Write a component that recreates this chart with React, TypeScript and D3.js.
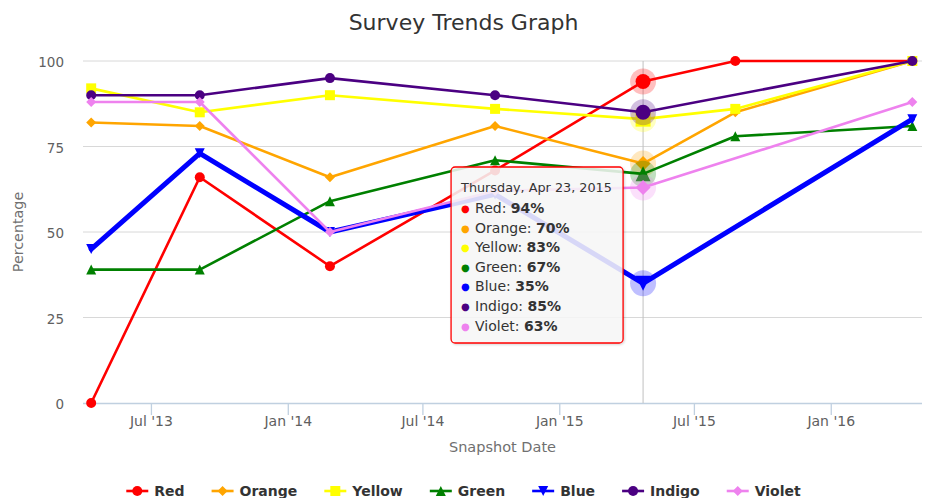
import React, { useMemo } from "react";
import * as d3 from "d3";

const DATES = ["2013-04-11", "2013-09-04", "2014-02-26", "2014-10-06", "2015-04-23", "2015-08-25", "2016-04-19"];
const SERIES_NAMES = ["Red", "Orange", "Yellow", "Green", "Blue", "Indigo", "Violet"];
const SERIES_COLORS = ["#ff0000", "#ffa500", "#ffff00", "#008000", "#0000ff", "#4b0082", "#ee82ee"];
const SERIES_SYMBOLS = ["circle", "diamond", "square", "triangle", "triangle-down", "circle", "diamond"];
const RED = [0, 66, 40, 68, 94, 100, 100];
const ORANGE = [82, 81, 66, 81, 70, 85, 100];
const YELLOW = [92, 85, 90, 86, 83, 86, 100];
const GREEN = [39, 39, 59, 71, 67, 78, 81];
const BLUE = [45, 73, 50, 61, 35, null, 83];
const INDIGO = [90, 90, 95, 90, 85, null, 100];
const VIOLET = [88, 88, 50, 62, 63, null, 88];
const SERIES_VALUES: (number | null)[][] = [RED, ORANGE, YELLOW, GREEN, BLUE, INDIGO, VIOLET];
const Y_TICKS = [0, 25, 50, 75, 100];
const X_DOMAIN = ["2013-03-31", "2016-05-02"];
const HOVER_INDEX = 4;

const W = 927;
const H = 498;
const PL = 83;
const PR = 922;
const PT = 61;
const PB = 403;
const FONT = "'DejaVu Sans', Verdana, sans-serif";

const parse = d3.timeParse("%Y-%m-%d");

function symbolPath(type: string, x: number, y: number, r: number): string {
  switch (type) {
    case "circle":
      return `M${x - r},${y}a${r},${r} 0 1,0 ${2 * r},0a${r},${r} 0 1,0 ${-2 * r},0Z`;
    case "diamond":
      return `M${x},${y - r}L${x + r},${y}L${x},${y + r}L${x - r},${y}Z`;
    case "square":
      return `M${x - r},${y - r}L${x + r},${y - r}L${x + r},${y + r}L${x - r},${y + r}Z`;
    case "triangle":
      return `M${x},${y - r}L${x + r},${y + r}L${x - r},${y + r}Z`;
    case "triangle-down":
      return `M${x - r},${y - r}L${x + r},${y - r}L${x},${y + r}Z`;
    default:
      return "";
  }
}

function measure(text: string, font: string): number {
  try {
    const c = document.createElement("canvas").getContext("2d");
    if (c) {
      c.font = font;
      return c.measureText(text).width;
    }
  } catch (e) {}
  return text.length * 8;
}

export default function App() {
  const dates = DATES.map((d) => parse(d) as Date);
  const x = d3.scaleTime().domain(X_DOMAIN.map((d) => parse(d) as Date)).range([PL, PR]);
  const y = d3.scaleLinear().domain([0, 100]).range([PB, PT]);
  const xTicks = d3.timeMonth.every(6)!.range(parse("2013-06-01") as Date, parse("2016-02-01") as Date);
  const fmt = d3.timeFormat("%b '%y");

  const line = d3
    .line<{ d: Date; v: number }>()
    .x((p) => x(p.d))
    .y((p) => y(p.v));

  const legendFont = `bold 14px ${FONT}`;
  const legendLayout = useMemo(() => {
    const widths = SERIES_NAMES.map((n) => measure(n, "bold 14px 'DejaVu Sans'"));
    const items = widths.map((w) => 22 + 6 + w);
    const total = items.reduce((a, b) => a + b, 0) + 27 * (items.length - 1);
    let cx = W / 2 - total / 2;
    return items.map((iw) => {
      const s = cx;
      cx += iw + 27;
      return s;
    });
  }, []);

  const hx = x(dates[HOVER_INDEX]);
  const tipW = 172;
  const tipH = 176;
  const tipX = hx - 20 - tipW;
  const tipY = 167;
  const tipFmt = d3.timeFormat("%A, %b %-d, %Y");

  return (
    <svg
      width={W}
      height={H}
      style={{ position: "absolute", left: 0, top: 0, fontFamily: FONT, background: "#fff" }}
    >
      <defs>
        <filter id="tipShadow" x="-10%" y="-10%" width="130%" height="130%">
          <feDropShadow dx="1" dy="1" stdDeviation="1.2" floodColor="#000" floodOpacity="0.18" />
        </filter>
      </defs>
      <rect x={0} y={0} width={W} height={H} fill="#fff" />
      <text x={W / 2} y={30} textAnchor="middle" fontSize={22} fill="#333333">
        Survey Trends Graph
      </text>

      {/* grid */}
      {Y_TICKS.map((t) => (
        <g key={t}>
          {t !== 0 && <line x1={PL} x2={PR} y1={y(t)} y2={y(t)} stroke="#D8D8D8" strokeWidth={1} />}
          <text x={64} y={y(t) + 6} textAnchor="end" fontSize={13.5} fill="#606060">
            {t}
          </text>
        </g>
      ))}
      <line x1={PL} x2={PR} y1={PB + 0.5} y2={PB + 0.5} stroke="#C0D0E0" strokeWidth={1.3} />
      {xTicks.map((t, i) => (
        <g key={i}>
          <line x1={x(t)} x2={x(t)} y1={PB} y2={PB + 12} stroke="#C0D0E0" strokeWidth={1.3} />
          <text x={x(t)} y={426} textAnchor="middle" fontSize={14} fill="#606060">
            {fmt(t)}
          </text>
        </g>
      ))}
      <text x={(PL + PR) / 2} y={452} textAnchor="middle" fontSize={14.5} fill="#707070">
        Snapshot Date
      </text>
      <text
        transform={`translate(23,${(PT + PB) / 2}) rotate(-90)`}
        textAnchor="middle"
        fontSize={14.3}
        fill="#707070"
      >
        Percentage
      </text>

      {/* crosshair */}
      <line x1={hx} x2={hx} y1={PT} y2={PB} stroke="#C0C0C0" strokeWidth={1} />

      {/* series */}
      {SERIES_VALUES.map((vals, si) => {
        const pts = vals
          .map((v, i) => ({ d: dates[i], v: v as number, i }))
          .filter((p) => p.v !== null && p.v !== undefined);
        const color = SERIES_COLORS[si];
        return (
          <g key={si}>
            <path
              d={line(pts) || ""}
              fill="none"
              stroke={color}
              strokeWidth={si === 4 ? 5 : 2.6}
              strokeLinejoin="round"
              strokeLinecap="round"
            />
            {pts.map((p) =>
              p.i === HOVER_INDEX ? (
                <g key={p.i}>
                  <circle cx={x(p.d)} cy={y(p.v)} r={13} fill={color} fillOpacity={0.25} />
                  <path d={symbolPath(SERIES_SYMBOLS[si], x(p.d), y(p.v), 7.5)} fill={color} />
                </g>
              ) : (
                <path key={p.i} d={symbolPath(SERIES_SYMBOLS[si], x(p.d), y(p.v), 5)} fill={color} />
              )
            )}
          </g>
        );
      })}

      {/* tooltip */}
      <g>
        <rect
          x={tipX}
          y={tipY}
          width={tipW}
          height={tipH}
          rx={4}
          fill="rgba(249,249,249,0.85)"
          stroke={SERIES_COLORS[0]}
          strokeWidth={1.3}
          filter="url(#tipShadow)"
        />
        <text x={tipX + 10} y={tipY + 25} fontSize={12.8} fill="#333333">
          {tipFmt(dates[HOVER_INDEX])}
        </text>
        {SERIES_NAMES.map((n, si) => {
          const ty = tipY + 46 + si * 19.6;
          return (
            <g key={n}>
              <text x={tipX + 10} y={ty - 1} fontSize={10} fill={SERIES_COLORS[si]}>
                ●
              </text>
              <text x={tipX + 24} y={ty} fontSize={14} fill="#333333">
                {n}: <tspan fontWeight="bold">{SERIES_VALUES[si][HOVER_INDEX]}%</tspan>
              </text>
            </g>
          );
        })}
      </g>

      {/* legend */}
      {SERIES_NAMES.map((n, si) => {
        const lx = legendLayout[si];
        const ly = 491;
        const color = SERIES_COLORS[si];
        return (
          <g key={n}>
            <line x1={lx} x2={lx + 22} y1={ly} y2={ly} stroke={color} strokeWidth={2.6} />
            <path d={symbolPath(SERIES_SYMBOLS[si], lx + 11, ly, 5)} fill={color} />
            <text x={lx + 28} y={496} style={{ font: legendFont }} fill="#333333">
              {n}
            </text>
          </g>
        );
      })}
    </svg>
  );
}
